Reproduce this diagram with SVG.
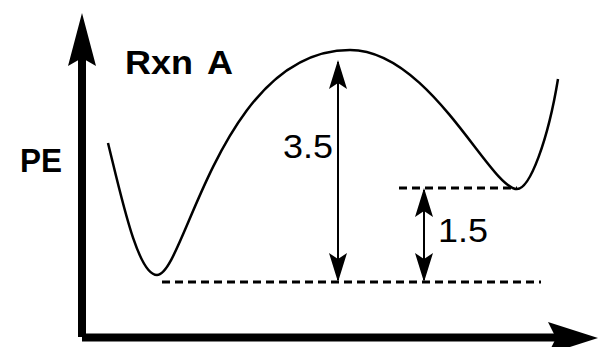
<svg xmlns="http://www.w3.org/2000/svg" width="600" height="347" viewBox="0 0 600 347">
<style>
.lbl{font-family:"Liberation Sans",Arial,sans-serif;font-size:33px;fill:#000}
.b{font-weight:bold}
.axis{stroke:#000;stroke-width:8;fill:none}
.dash{stroke:#000;stroke-width:3;stroke-dasharray:8 5;fill:none}
.dim{stroke:#000;stroke-width:2;fill:none;marker-start:url(#ah);marker-end:url(#ah)}
.curve{stroke:#000;stroke-width:2.5;fill:none}
</style>
<defs>
<marker id="ah" markerUnits="userSpaceOnUse" markerWidth="40" markerHeight="24" viewBox="-32 -12 40 24" refX="0" refY="0" orient="auto-start-reverse">
<path d="M2,0 L-27,-9 L-21,0 L-27,9 Z" fill="#000"/>
</marker>
</defs>
<rect width="600" height="347" fill="#fff"/>
<g id="axes">
<line class="axis" x1="82" y1="55" x2="82" y2="337"/>
<polygon points="82,13 96,66 82,58 68,66" fill="#000"/>
<line class="axis" x1="82" y1="337.5" x2="560" y2="337.5"/>
<polygon points="598,338 548,322 556,338 548,354" fill="#000"/>
</g>
<g id="curve">
<path class="curve" d="M108,143 C122,200 138,275 157,275 C185,275 220,50 350,50 C430,50 490,189 517,189 C530,189 548,140 558,79"/>
</g>
<g id="connectors">
<line class="dash" x1="162" y1="282" x2="541" y2="282"/>
<line class="dash" x1="399" y1="188" x2="517" y2="188"/>
<line class="dim" x1="338" y1="62" x2="338" y2="280"/>
<line class="dim" x1="424" y1="190" x2="424" y2="280"/>
</g>
<g id="labels">
<text class="lbl b" y="74"><tspan x="125" textLength="68" lengthAdjust="spacingAndGlyphs">Rxn</tspan> <tspan x="207" textLength="26" lengthAdjust="spacingAndGlyphs">A</tspan></text>
<text class="lbl b" x="20" y="172" textLength="42" lengthAdjust="spacingAndGlyphs">PE</text>
<text class="lbl" x="283" y="158" textLength="50" lengthAdjust="spacingAndGlyphs">3.5</text>
<text class="lbl" x="438" y="242" textLength="50" lengthAdjust="spacingAndGlyphs">1.5</text>
</g>
</svg>
